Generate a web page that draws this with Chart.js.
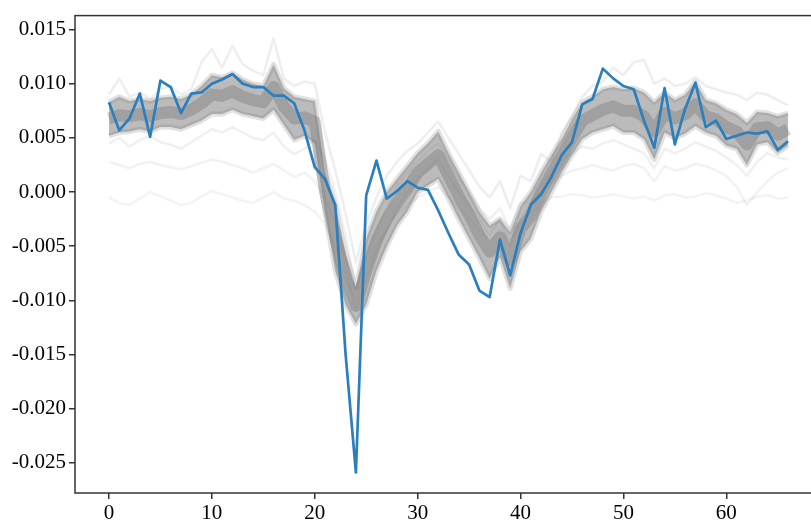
<!DOCTYPE html>
<html>
<head>
<meta charset="utf-8">
<script src="https://cdn.jsdelivr.net/npm/chart.js@4"></script>
<style>
  html, body { margin: 0; padding: 0; background: #fff; overflow: hidden; }
  #wrap { width: 811px; height: 527px; overflow: hidden; }
</style>
</head>
<body>
<div id="wrap"><canvas id="chart" width="830" height="527"></canvas></div>
<script>
// values, one per x = 0..66
const xs = Array.from({ length: 67 }, (_, i) => i);
const xTicks = [0, 10, 20, 30, 40, 50, 60];
const yTicks = [-0.025, -0.020, -0.015, -0.010, -0.005, 0.000, 0.005, 0.010, 0.015];

// highlighted series
const blue = [0.0083,0.0057,0.0068,0.0091,0.0051,0.0103,0.0097,0.0073,0.0091,0.0092,
  0.0100,0.0104,0.0109,0.0100,0.0097,0.0097,0.0089,0.0089,0.0082,0.0057,
  0.0023,0.0012,-0.0012,-0.0150,-0.0259,-0.0003,0.0029,-0.0006,0.0001,0.0010,
  0.0004,0.0002,-0.0017,-0.0038,-0.0058,-0.0067,-0.0091,-0.0097,-0.0044,-0.0077,
  -0.0038,-0.0012,-0.0002,0.0014,0.0034,0.0046,0.0081,0.0086,0.0114,0.0105,
  0.0098,0.0095,0.0066,0.0041,0.0096,0.0044,0.0077,0.0101,0.0060,0.0066,
  0.0049,0.0052,0.0055,0.0054,0.0056,0.0039,0.0047];

// dense grey bundle: upper edge, lower edge, centre
const coreHigh = [0.0083,0.0088,0.0084,0.0086,0.0084,0.0087,0.0088,0.0086,0.0090,0.0098,
  0.0108,0.0106,0.0110,0.0104,0.0100,0.0098,0.0118,0.0096,0.0088,0.0086,
  0.0084,0.0018,-0.0012,-0.0056,-0.0088,-0.0043,-0.0018,0.0000,0.0012,0.0024,
  0.0036,0.0045,0.0056,0.0036,0.0018,0.0000,-0.0018,-0.0031,-0.0025,-0.0037,
  -0.0013,0.0000,0.0018,0.0034,0.0049,0.0067,0.0083,0.0088,0.0095,0.0097,
  0.0095,0.0096,0.0092,0.0083,0.0092,0.0085,0.0090,0.0102,0.0085,0.0082,
  0.0076,0.0072,0.0064,0.0074,0.0073,0.0070,0.0073];
const coreLow = [0.0052,0.0055,0.0056,0.0058,0.0056,0.0060,0.0060,0.0058,0.0062,0.0066,
  0.0072,0.0072,0.0076,0.0072,0.0070,0.0068,0.0076,0.0062,0.0048,0.0052,
  0.0045,-0.0018,-0.0073,-0.0104,-0.0122,-0.0104,-0.0073,-0.0050,-0.0031,-0.0018,
  0.0000,0.0006,0.0012,-0.0006,-0.0025,-0.0043,-0.0061,-0.0080,-0.0060,-0.0089,
  -0.0055,-0.0043,-0.0018,0.0000,0.0018,0.0034,0.0049,0.0055,0.0058,0.0061,
  0.0055,0.0055,0.0049,0.0030,0.0055,0.0050,0.0054,0.0061,0.0055,0.0052,
  0.0043,0.0040,0.0025,0.0044,0.0046,0.0036,0.0043];
const coreMid = [0.0068,0.0071,0.0070,0.0072,0.0070,0.0073,0.0074,0.0072,0.0076,0.0082,
  0.0090,0.0089,0.0093,0.0088,0.0085,0.0083,0.0097,0.0079,0.0068,0.0069,
  0.0065,0.0000,-0.0042,-0.0080,-0.0105,-0.0073,-0.0045,-0.0025,-0.0010,0.0003,
  0.0018,0.0026,0.0034,0.0015,-0.0004,-0.0021,-0.0040,-0.0055,-0.0042,-0.0063,
  -0.0034,-0.0022,0.0000,0.0017,0.0033,0.0050,0.0066,0.0071,0.0076,0.0079,
  0.0075,0.0075,0.0070,0.0056,0.0073,0.0068,0.0072,0.0081,0.0070,0.0067,
  0.0060,0.0056,0.0044,0.0059,0.0060,0.0053,0.0058];

// faint single traces
const faintHigh = [0.0090,0.0105,0.0088,0.0092,0.0086,0.0095,0.0098,0.0090,0.0095,0.0120,
  0.0132,0.0115,0.0135,0.0118,0.0112,0.0108,0.0142,0.0105,0.0098,0.0102,
  0.0100,0.0055,0.0020,-0.0020,-0.0065,-0.0030,-0.0005,0.0015,0.0028,0.0038,
  0.0045,0.0055,0.0065,0.0050,0.0035,0.0020,0.0005,-0.0005,0.0010,-0.0015,
  0.0015,0.0010,0.0035,0.0028,0.0055,0.0070,0.0088,0.0098,0.0102,0.0115,
  0.0108,0.0120,0.0122,0.0100,0.0105,0.0098,0.0100,0.0106,0.0098,0.0095,
  0.0092,0.0090,0.0085,0.0092,0.0090,0.0085,0.0080];
const faintC = [0.0045,0.0050,0.0042,0.0048,0.0052,0.0046,0.0044,0.0040,0.0046,0.0052,
  0.0058,0.0055,0.0060,0.0055,0.0050,0.0048,0.0055,0.0042,0.0035,0.0040,
  0.0048,0.0030,0.0000,-0.0040,-0.0090,-0.0060,-0.0035,-0.0015,0.0005,0.0018,
  0.0028,0.0038,0.0045,0.0030,0.0012,0.0000,-0.0015,-0.0025,-0.0015,-0.0035,
  -0.0010,-0.0010,0.0005,0.0020,0.0030,0.0036,0.0042,0.0040,0.0045,0.0048,
  0.0044,0.0040,0.0036,0.0022,0.0040,0.0036,0.0040,0.0046,0.0042,0.0038,
  0.0032,0.0025,0.0015,0.0028,0.0036,0.0032,0.0030];
const faintB = [0.0028,0.0025,0.0022,0.0026,0.0028,0.0025,0.0023,0.0021,0.0024,0.0027,
  0.0030,0.0028,0.0025,0.0022,0.0018,0.0022,0.0026,0.0020,0.0014,0.0018,
  0.0010,-0.0005,-0.0030,-0.0070,-0.0110,-0.0080,-0.0055,-0.0035,-0.0015,0.0000,
  0.0012,0.0022,0.0030,0.0015,0.0000,-0.0012,-0.0025,-0.0040,-0.0025,-0.0050,
  -0.0025,-0.0010,0.0000,0.0010,0.0015,0.0020,0.0022,0.0025,0.0022,0.0020,
  0.0024,0.0026,0.0022,0.0010,0.0024,0.0020,0.0022,0.0026,0.0024,0.0020,
  0.0015,0.0005,-0.0012,0.0000,0.0010,0.0018,0.0022];
const faintLow = [-0.0005,-0.0010,-0.0012,-0.0006,0.0000,-0.0004,-0.0008,-0.0012,-0.0010,-0.0004,
  0.0001,-0.0002,-0.0005,-0.0008,-0.0010,-0.0005,0.0000,-0.0006,-0.0008,-0.0012,
  -0.0018,-0.0030,-0.0050,-0.0080,-0.0100,-0.0070,-0.0050,-0.0035,-0.0020,-0.0012,
  -0.0005,0.0000,0.0005,-0.0005,-0.0015,-0.0025,-0.0035,-0.0045,-0.0035,-0.0045,
  -0.0030,-0.0020,-0.0010,-0.0005,-0.0004,-0.0002,-0.0003,-0.0005,-0.0004,-0.0002,
  -0.0004,-0.0006,-0.0004,-0.0008,-0.0003,-0.0002,-0.0005,-0.0004,-0.0001,-0.0003,
  -0.0006,-0.0010,-0.0008,-0.0004,-0.0003,-0.0006,-0.0005];

const pts = arr => arr.map((v, i) => ({ x: xs[i], y: v }));
const faint = (data, alpha) => ({
  data: pts(data), borderColor: `rgba(160,160,160,${alpha})`, borderWidth: 2.5,
  pointRadius: 0, fill: false, order: 5
});

const frame = {
  id: 'frame',
  afterDraw(chart) {
    const { ctx, chartArea: a } = chart;
    ctx.save();
    ctx.strokeStyle = '#333';
    ctx.lineWidth = 1.5;
    ctx.strokeRect(a.left, a.top, a.right - a.left, a.bottom - a.top);
    ctx.restore();
  }
};

Chart.defaults.font.family = '"Liberation Serif", serif';
Chart.defaults.font.size = 21;
Chart.defaults.color = '#000';

new Chart(document.getElementById('chart'), {
  type: 'line',
  data: {
    datasets: [
      { data: pts(blue), borderColor: '#2b7fbd', borderWidth: 2.7, pointRadius: 0, fill: false, order: 0 },
      { data: pts(coreMid), borderColor: 'rgba(100,100,100,0.3)', borderWidth: 12, pointRadius: 0, fill: false, order: 2 },
      { data: pts(coreHigh), borderColor: 'rgba(130,130,130,0.25)', borderWidth: 5, pointRadius: 0,
        backgroundColor: 'rgba(120,120,120,0.5)', fill: '+1', order: 3 },
      { data: pts(coreLow), borderColor: 'rgba(130,130,130,0.25)', borderWidth: 5, pointRadius: 0, fill: false, order: 3 },
      faint(faintHigh, 0.18),
      faint(faintC, 0.16),
      faint(faintB, 0.14),
      faint(faintLow, 0.12)
    ]
  },
  options: {
    responsive: false,
    animation: false,
    layout: { padding: { top: 9, right: 8, left: 0, bottom: 0 } },
    plugins: { legend: { display: false }, tooltip: { enabled: false } },
    elements: { line: { tension: 0, borderJoinStyle: 'round' } },
    scales: {
      x: {
        type: 'linear', min: -3.3, max: 69.3,
        afterBuildTicks: s => { s.ticks = xTicks.map(v => ({ value: v })); },
        afterFit: s => { s.height = 34; },
        grid: { drawOnChartArea: false, tickLength: 6, color: '#333', lineWidth: 1.5 },
        border: { display: false },
        ticks: { padding: 2, maxRotation: 0, callback: v => String(v) }
      },
      y: {
        min: -0.0278, max: 0.0163,
        afterBuildTicks: s => { s.ticks = yTicks.map(v => ({ value: v })); },
        afterFit: s => { s.width = 75; },
        grid: { drawOnChartArea: false, tickLength: 6, color: '#333', lineWidth: 1.5 },
        border: { display: false },
        ticks: { padding: 3, callback: v => v.toFixed(3) }
      }
    }
  },
  plugins: [frame]
});
</script>
</body>
</html>
